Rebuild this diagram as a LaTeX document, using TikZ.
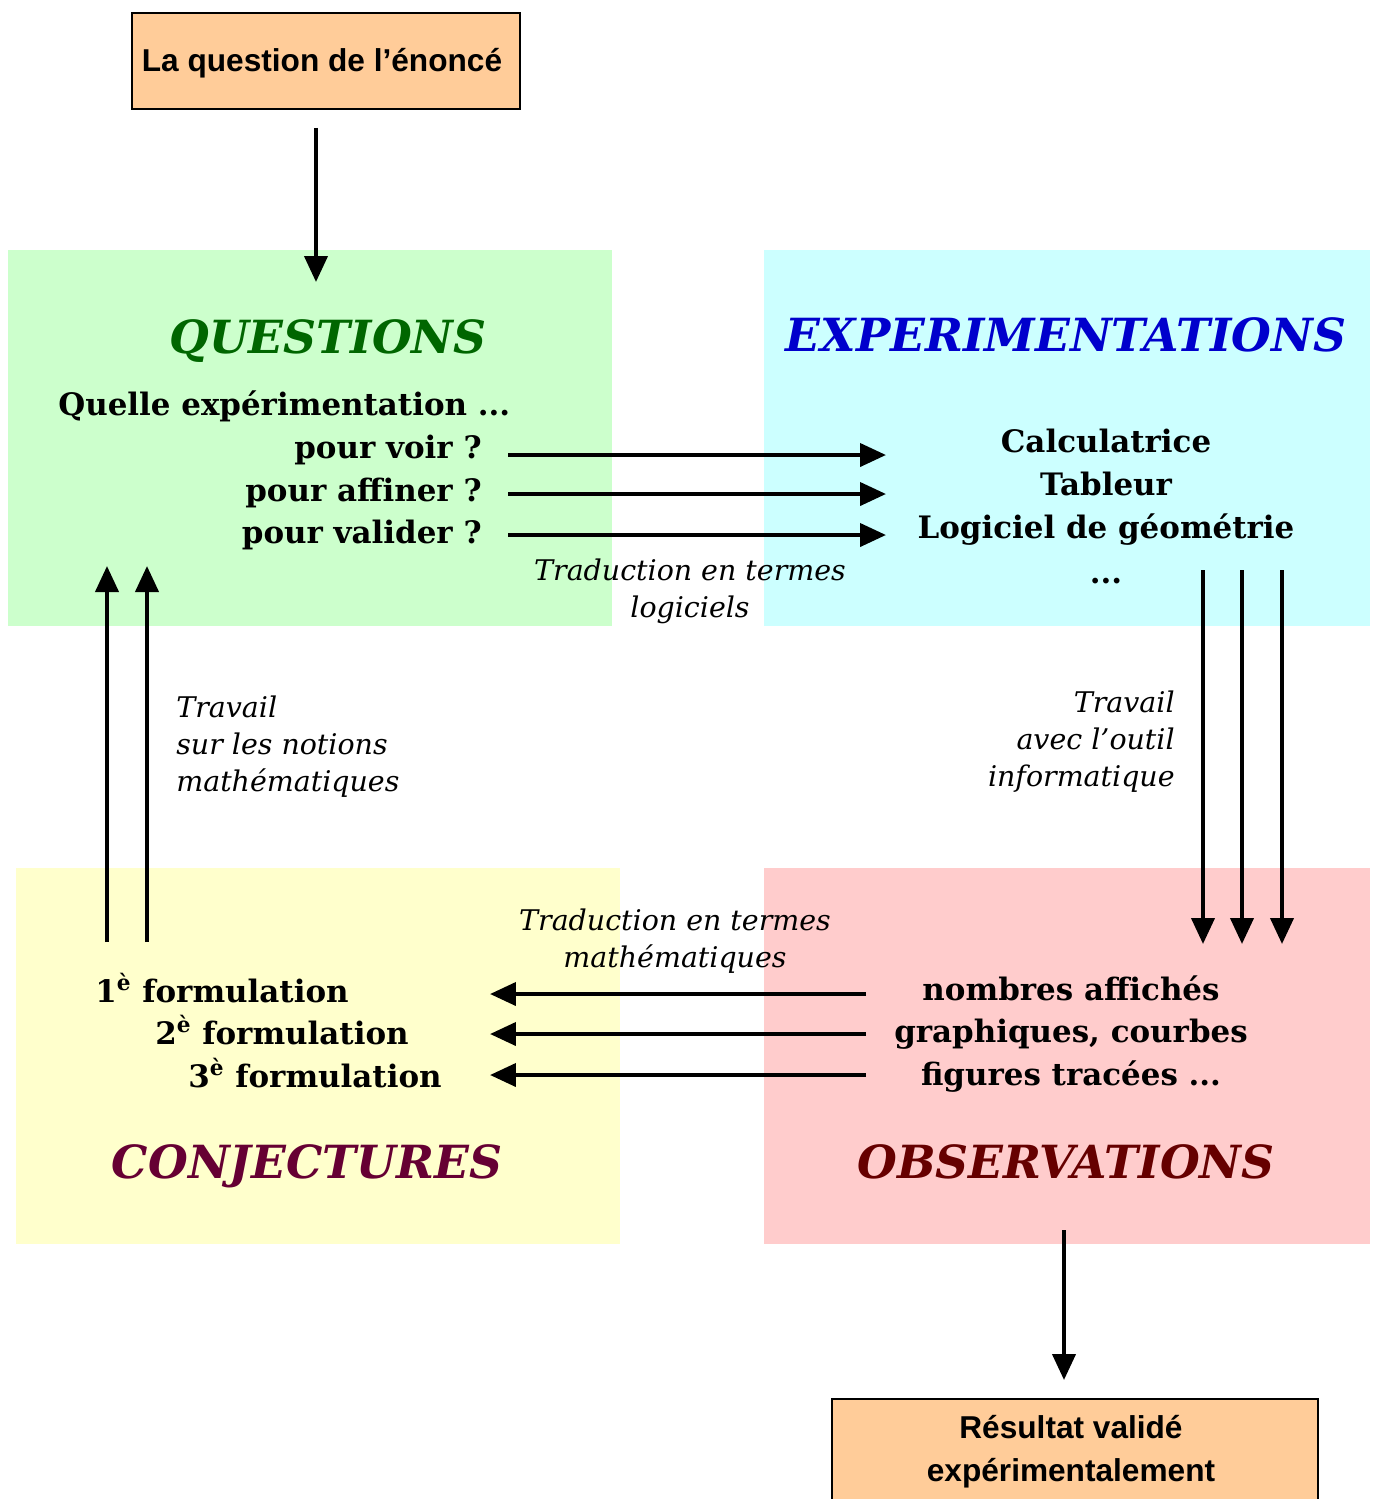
\documentclass[tikz,border=0pt]{standalone}
\usepackage{fontspec}
\setmainfont{DejaVu Serif}
\newfontfamily\arialfont{Liberation Sans}
\usetikzlibrary{arrows.meta, positioning, backgrounds}
\definecolor{qbg}{HTML}{CCFFCC}
\definecolor{ebg}{HTML}{CCFFFF}
\definecolor{cbg}{HTML}{FFFFCC}
\definecolor{obg}{HTML}{FFCCCC}
\definecolor{boxbg}{HTML}{FFCC99}
\definecolor{qtitle}{HTML}{006600}
\definecolor{etitle}{HTML}{0000CC}
\definecolor{ctitle}{HTML}{660033}
\definecolor{otitle}{HTML}{660000}
\tikzset{
    zone/.style={rectangle, anchor=north west, inner sep=0pt, minimum width=12.08cm, minimum height=7.52cm},
    title/.style={font=\fontsize{26}{31}\selectfont\bfseries\itshape, anchor=base, inner sep=0pt},
    item/.style={font=\fontsize{17.6}{21}\selectfont\bfseries, anchor=base, inner sep=0pt},
    note/.style={font=\fontsize{16.2}{19}\selectfont\itshape, anchor=base, inner sep=0pt},
    endbox/.style={rectangle, draw, line width=1pt, fill=boxbg, inner sep=0pt},
    boxtext/.style={font=\arialfont\fontsize{18}{21}\selectfont\bfseries, anchor=base, inner sep=0pt},
    arrow/.style={-{Triangle[length=0.52cm, width=0.46cm]}, line width=2.3pt},
}

\begin{document}
\begin{tikzpicture}[x=0.02cm, y=-0.02cm]
        \useasboundingbox (0,0) rectangle (1373,1499);

        % Zones
        \node [zone, fill=qbg] (qzone) at (8,250) {};
        \node [zone, fill=ebg, minimum width=12.12cm] (ezone) at (764,250) {};
        \node [zone, fill=cbg] (czone) at (16,868) {};
        \node [zone, fill=obg, minimum width=12.12cm] (ozone) at (764,868) {};

        % End boxes
        \node [endbox, minimum width=7.76cm, minimum height=1.92cm] (enonce) at (326,61) {};
        \node [boxtext] (enoncetxt) at (322,71) {La question de l’énoncé};
        \node [endbox, anchor=north, minimum width=9.72cm, minimum height=2.6cm] (result) at (1075,1398) {};
        \node [boxtext] (resulta) at (1071,1438) {Résultat validé};
        \node [boxtext] (resultb) at (1071,1481) {expérimentalement};

        % Questions
        \node [title, text=qtitle] (qtitle) at (328,353) {QUESTIONS};
        \node [item, anchor=base west] (quelle) at (58,415) {Quelle expérimentation ...};
        \node [item, anchor=base east] (voir) at (482,458) {pour voir ?};
        \node [item, anchor=base east] (affiner) at (482,501) {pour affiner ?};
        \node [item, anchor=base east] (valider) at (482,543) {pour valider ?};

        % Experimentations
        \node [title, text=etitle] (etitle) at (1066,351) {EXPERIMENTATIONS};
        \node [item] (calc) at (1106,452) {Calculatrice};
        \node [item] (tableur) at (1106,495) {Tableur};
        \node [item] (geom) at (1106,538) {Logiciel de géométrie};
        \node [item] (etc) at (1106,583) {...};

        % Conjectures
        \node [item, anchor=base west] (form1) at (95,1002) {1\textsuperscript{è} formulation};
        \node [item, anchor=base west] (form2) at (155,1044) {2\textsuperscript{è} formulation};
        \node [item, anchor=base west] (form3) at (188,1087) {3\textsuperscript{è} formulation};
        \node [title, text=ctitle] (ctitle) at (307,1178) {CONJECTURES};

        % Observations
        \node [item] (nombres) at (1071,1000) {nombres affichés};
        \node [item] (graph) at (1071,1042) {graphiques, courbes};
        \node [item] (figures) at (1071,1085) {figures tracées ...};
        \node [title, text=otitle] (otitle) at (1066,1178) {OBSERVATIONS};

        % Notes
        \node [note] (tradla) at (690,580) {Traduction en termes};
        \node [note] (tradlb) at (690,617) {logiciels};
        \node [note, anchor=base west] (travla) at (176,717) {Travail};
        \node [note, anchor=base west] (travlb) at (176,754) {sur les notions};
        \node [note, anchor=base west] (travlc) at (176,791) {mathématiques};
        \node [note, anchor=base east] (travra) at (1175,712) {Travail};
        \node [note, anchor=base east] (travrb) at (1175,749) {avec l’outil};
        \node [note, anchor=base east] (travrc) at (1175,786) {informatique};
        \node [note] (tradma) at (675,930) {Traduction en termes};
        \node [note] (tradmb) at (675,967) {mathématiques};

        % Arrow ends
        \coordinate (qin) at (316,282);
        \coordinate (s1) at (508,455); \coordinate (t1) at (886,455);
        \coordinate (s2) at (508,494); \coordinate (t2) at (886,494);
        \coordinate (s3) at (508,535); \coordinate (t3) at (886,535);
        \coordinate (d1) at (1203,570); \coordinate (e1) at (1203,944);
        \coordinate (d2) at (1242,570); \coordinate (e2) at (1242,944);
        \coordinate (d3) at (1282,570); \coordinate (e3) at (1282,944);
        \coordinate (l1) at (866,994); \coordinate (m1) at (490,994);
        \coordinate (l2) at (866,1034); \coordinate (m2) at (490,1034);
        \coordinate (l3) at (866,1075); \coordinate (m3) at (490,1075);
        \coordinate (u1) at (107,942); \coordinate (v1) at (107,566);
        \coordinate (u2) at (147,942); \coordinate (v2) at (147,566);
        \coordinate (rout) at (1064,1230); \coordinate (rin) at (1064,1380);

        % Edges
        \draw [arrow] ([yshift=-0.36cm]enonce.south -| qin) -- (qin);
        \draw [arrow] (s1) -- (t1);
        \draw [arrow] (s2) -- (t2);
        \draw [arrow] (s3) -- (t3);
        \draw [arrow] (d1) -- (e1);
        \draw [arrow] (d2) -- (e2);
        \draw [arrow] (d3) -- (e3);
        \draw [arrow] (l1) -- (m1);
        \draw [arrow] (l2) -- (m2);
        \draw [arrow] (l3) -- (m3);
        \draw [arrow] (u1) -- (v1);
        \draw [arrow] (u2) -- (v2);
        \draw [arrow] (rout) -- (rin);
\end{tikzpicture}
\end{document}
